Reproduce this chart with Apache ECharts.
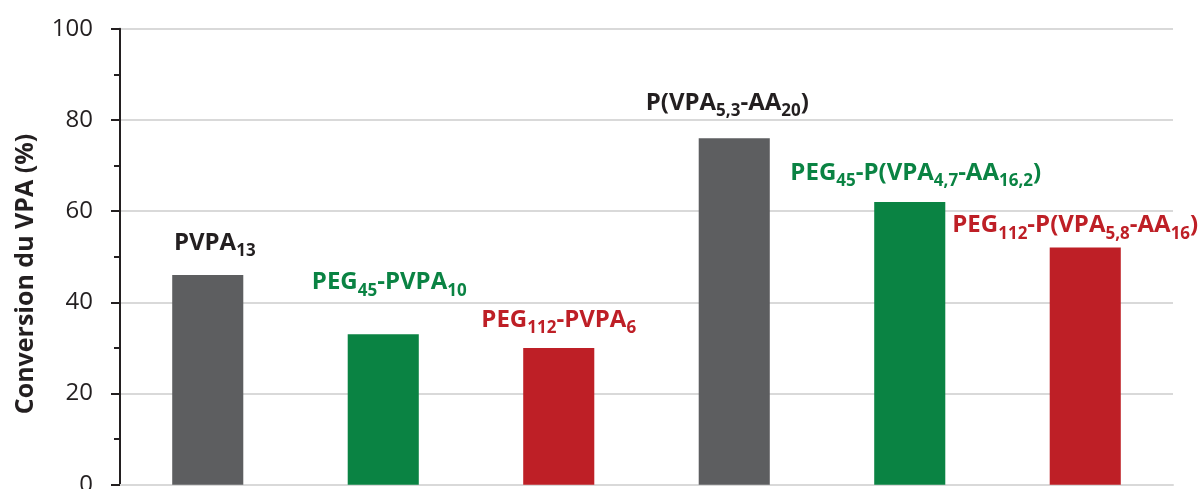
<!DOCTYPE html>
<html>
<head>
<meta charset="utf-8">
<script src="https://cdn.jsdelivr.net/npm/echarts@6/dist/echarts.min.js"></script>
<style>
  html, body { margin: 0; padding: 0; background: #fff; }
  #chart { width: 1202px; height: 489px; }
</style>
</head>
<body>
<div id="chart"></div>
<script>
// Sample names written as rich-text markup: {m|...} normal, {s|...} subscript
const categories = [
  '{m|PVPA}{s|13}',
  '{m|PEG}{s|45}{m|-PVPA}{s|10}',
  '{m|PEG}{s|112}{m|-PVPA}{s|6}',
  '{m|P(VPA}{s|5,3}{m|-AA}{s|20}{m|)}',
  '{m|PEG}{s|45}{m|-P(VPA}{s|4,7}{m|-AA}{s|16,2}{m|)}',
  '{m|PEG}{s|112}{m|-P(VPA}{s|5,8}{m|-AA}{s|16}{m|)}'
];
// VPA conversion (%)
const conversion = [46, 33, 30, 76, 62, 52];
// Y axis tick values
const yTicks = [0, 20, 40, 60, 80, 100];

// Styling: colour per family (homopolymer / PEG45 / PEG112), cycling every 3 bars
const barColors = ['#5d5e60', '#0a8343', '#be1f26'];
const textColors = ['#231f20', '#0a8343', '#be1f26'];
// Nudges [dx, dy] for each bar's name label, in px
const labelShift = [[7, -18], [6, -38], [0, -14], [-7, -21], [6, -15], [-10, -8]];

const chart = echarts.init(document.getElementById('chart'), null, { renderer: 'canvas' });
const FONT = '"Open Sans", "Noto Sans", sans-serif';

chart.setOption({
  animation: false,
  backgroundColor: '#ffffff',
  grid: { left: 120, right: 29, top: 28.7, bottom: 4.3, containLabel: false, outerBoundsMode: 'none' },
  xAxis: {
    type: 'category',
    data: categories,
    axisLine: { show: true, lineStyle: { color: '#d9d9d9', width: 2 } },
    axisTick: { show: false },
    axisLabel: { show: false },
    splitLine: { show: false }
  },
  yAxis: {
    type: 'value',
    min: yTicks[0],
    max: yTicks[yTicks.length - 1],
    interval: yTicks[1] - yTicks[0],
    axisLine: { show: true, lineStyle: { color: '#231f20', width: 2 } },
    axisTick: { show: true, length: 9, lineStyle: { color: '#231f20', width: 2 } },
    minorTick: { show: true, splitNumber: 2, length: 6, lineStyle: { color: '#231f20', width: 2 } },
    splitLine: { show: true, lineStyle: { color: '#d9d9d9', width: 2 } },
    axisLabel: { fontFamily: FONT, fontSize: 24, color: '#231f20', margin: 27 }
  },
  graphic: [{
    type: 'text',
    x: 26,
    y: 274,
    rotation: Math.PI / 2,
    style: {
      text: 'Conversion du VPA (%)',
      font: 'bold 25px "Open Sans", "Noto Sans", sans-serif',
      fill: '#231f20',
      align: 'center',
      verticalAlign: 'middle'
    }
  }],
  series: [{
    type: 'bar',
    barWidth: '40.5%',
    data: conversion.map((v, i) => ({
      value: v,
      itemStyle: { color: barColors[i % 3] },
      label: { color: textColors[i % 3], offset: labelShift[i] }
    })),
    label: {
      show: true,
      position: 'top',
      distance: 0,
      formatter: p => categories[p.dataIndex],
      rich: {
        m: { fontFamily: FONT, fontWeight: 'bold', fontSize: 24, lineHeight: 28 },
        s: { fontFamily: FONT, fontWeight: 'bold', fontSize: 17, lineHeight: 17, padding: [17, 0, 0, 0] }
      }
    }
  }]
});
</script>
</body>
</html>
